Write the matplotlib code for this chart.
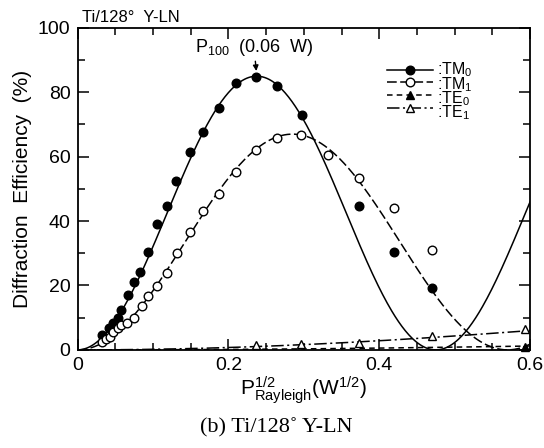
import matplotlib
matplotlib.use("Agg")
import matplotlib.pyplot as plt
from matplotlib.ticker import MultipleLocator
import numpy as np

plt.rcParams["font.family"] = ["Liberation Sans", "DejaVu Sans"]
plt.rcParams["mathtext.fontset"] = "custom"
plt.rcParams["mathtext.rm"] = "Liberation Sans"
plt.rcParams["mathtext.it"] = "Liberation Sans:italic"
plt.rcParams["lines.scale_dashes"] = False

# ---------------------------------------------------------------------------
# Measured points  (x = sqrt(P_Rayleigh) in W^1/2, y = diffraction efficiency %)
# ---------------------------------------------------------------------------
tm0_x = [0.032, 0.042, 0.047, 0.053, 0.058, 0.067, 0.075, 0.083, 0.094, 0.105,
         0.118, 0.131, 0.149, 0.166, 0.187, 0.210, 0.237, 0.264, 0.297, 0.373,
         0.419, 0.470]
tm0_y = [4.7, 6.7, 8.3, 9.8, 12.4, 17.1, 21.2, 24.3, 30.3, 39.1,
         44.7, 52.6, 61.3, 67.6, 75.0, 83.0, 84.7, 82.0, 72.8, 44.7,
         30.3, 19.3]

tm1_x = [0.032, 0.038, 0.043, 0.047, 0.053, 0.058, 0.066, 0.075, 0.085, 0.094,
         0.105, 0.119, 0.132, 0.149, 0.166, 0.187, 0.210, 0.236, 0.264, 0.296,
         0.332, 0.373, 0.419, 0.470]
tm1_y = [2.3, 3.3, 4.1, 5.4, 6.7, 7.8, 8.5, 9.8, 13.5, 16.6,
         19.7, 24.0, 30.0, 36.5, 43.0, 48.4, 55.2, 62.0, 65.7, 66.8,
         60.6, 53.5, 44.0, 31.1]

te0_x = [0.593]
te0_y = [1.0]

te1_x = [0.236, 0.296, 0.373, 0.470, 0.593]
te1_y = [1.5, 1.9, 2.1, 4.3, 6.5]

# coupled-mode fit curves: eta = amp * sin^2(pi * x / period)
fit_amp = {"TM0": 85.0, "TM1": 67.0, "TE0": 5.0, "TE1": 20.0}
fit_period = {"TM0": 0.475, "TM1": 0.57, "TE0": 3.68, "TE1": 3.25}

x_ticks = [0, 0.2, 0.4, 0.6]
y_ticks = [0, 20, 40, 60, 80, 100]

xs = np.linspace(0, 0.6, 400)


def fit(name):
    return fit_amp[name] * np.sin(np.pi * xs / fit_period[name]) ** 2


fig = plt.figure(figsize=(5.44, 4.48), dpi=100)
ax = fig.add_axes([0.1425, 0.219, 0.832, 0.7188])

lw = 1.1
D_TM1 = (7, 2.5)
D_TE0 = (4, 3)
D_TE1 = (9, 2.5, 1.5, 2.5)

ax.plot(xs, fit("TM0"), color="k", lw=lw)
ax.plot(xs, fit("TM1"), color="k", lw=lw, dashes=D_TM1)
ax.plot(xs, fit("TE0"), color="k", lw=lw, dashes=D_TE0)
ax.plot(xs, fit("TE1"), color="k", lw=lw, dashes=D_TE1)

ax.plot(tm0_x, tm0_y, "o", color="k", ms=6.2, zorder=4)
ax.plot(tm1_x, tm1_y, "o", mfc="white", mec="k", mew=1.0, ms=6.2, zorder=4)
ax.plot(te0_x, te0_y, "^", color="k", ms=5.5, zorder=4, clip_on=False)
ax.plot(te1_x, te1_y, "^", mfc="white", mec="k", mew=1.0, ms=5.5, zorder=4,
        clip_on=False)

ax.set_xlim(0, 0.6)
ax.set_ylim(0, 100)
ax.set_xticks(x_ticks)
ax.set_xticklabels(["0", "0.2", "0.4", "0.6"])
ax.set_yticks(y_ticks)
ax.xaxis.set_minor_locator(MultipleLocator(0.05))
ax.yaxis.set_minor_locator(MultipleLocator(10))
ax.tick_params(which="both", direction="in", top=True, right=True,
               labelsize=14, width=1.1)
ax.tick_params(which="major", length=8, pad=5)
ax.tick_params(which="minor", length=5)
for sp in ax.spines.values():
    sp.set_linewidth(1.3)

ax.set_xlabel(r"P$^{1/2}_{\mathrm{Rayleigh}}$(W$^{1/2}$)", fontsize=15, labelpad=0)
ax.set_ylabel("Diffraction  Efficiency  (%)", fontsize=15, labelpad=4)

ax.text(0.01, 1.008, "Ti/128°  Y-LN", transform=ax.transAxes, fontsize=12,
        ha="left", va="bottom")

ax.annotate(r"P$_{100}$  (0.06  W)", xy=(0.237, 86.6), xytext=(0.234, 90.5),
            ha="center", va="bottom", fontsize=13,
            arrowprops=dict(arrowstyle="-|>", color="k", lw=1.0,
                            mutation_scale=8, shrinkA=0, shrinkB=0))

# hand-built legend (tight rows like the original)
leg_styles = [
    dict(ls="-", marker="o", mfc="k", ms=6.2),
    dict(dashes=D_TM1, marker="o", mfc="white", ms=6.2),
    dict(dashes=D_TE0, marker="^", mfc="k", ms=5.5),
    dict(dashes=D_TE1, marker="^", mfc="white", ms=5.5),
]
leg_labels = [":TM$_0$", ":TM$_1$", ":TE$_0$", ":TE$_1$"]
leg_x0, leg_x1, leg_tx = 0.684, 0.786, 0.794
leg_y0, leg_dy = 0.870, 0.0395
for i, st in enumerate(leg_styles):
    yy = leg_y0 - i * leg_dy
    ax.plot([leg_x0, (leg_x0 + leg_x1) / 2, leg_x1], [yy, yy, yy],
            transform=ax.transAxes, color="k", lw=lw, mec="k", mew=1.0,
            markevery=[1], **st)
ax.text(leg_tx, leg_y0 + 0.028, "\n".join(leg_labels), transform=ax.transAxes,
        fontsize=11.5, ha="left", va="top", linespacing=0.675)

fig.text(0.507, 0.035, "(b) Ti/128˚ Y-LN", fontsize=16,
         family=["Liberation Serif", "DejaVu Serif"], ha="center", va="baseline")

fig.savefig("out.png", dpi=100)
